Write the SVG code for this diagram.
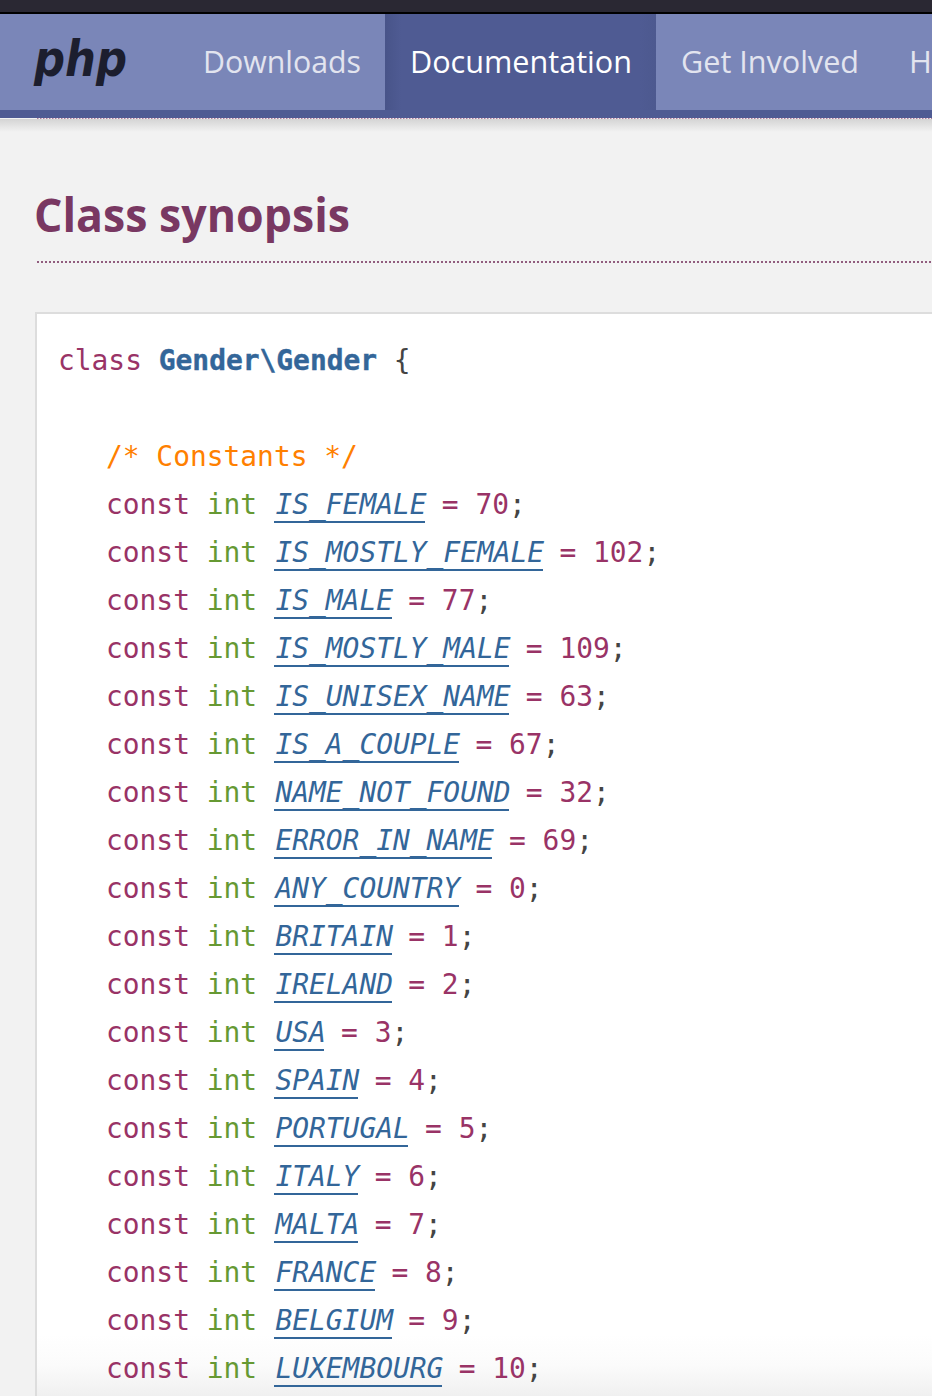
<svg xmlns="http://www.w3.org/2000/svg" width="932" height="1396" viewBox="0 0 932 1396">
<style>
.m{font-family:"DejaVu Sans Mono","Liberation Mono",monospace;font-size:27.9px;white-space:pre}
.k{fill:#993366}.t{fill:#669933}.n{fill:#336699;font-style:italic}.p{fill:#444444}.o{fill:#ff8000}
.c{fill:#336699;font-weight:700;stroke:#336699;stroke-width:0.4}
.u{stroke:#336699;stroke-width:2}
.nav{font-family:"Open Sans","Noto Sans",sans-serif;font-size:31px;fill:#e2e4ef}
</style>
<defs>
<linearGradient id="sh" x1="0" y1="0" x2="0" y2="1"><stop offset="0" stop-color="#d4d4d4"/><stop offset="1" stop-color="#f2f2f2"/></linearGradient>
<linearGradient id="fade" x1="0" y1="0" x2="0" y2="1"><stop offset="0" stop-color="#ffffff"/><stop offset="0.5" stop-color="#fbfbfb"/><stop offset="1" stop-color="#f0f0f0"/></linearGradient>
<linearGradient id="tab" x1="0" y1="0" x2="1" y2="0"><stop offset="0" stop-color="#485489"/><stop offset="0.06" stop-color="#4f5b93"/><stop offset="0.94" stop-color="#4f5b93"/><stop offset="1" stop-color="#4d598f"/></linearGradient>
</defs>
<rect width="932" height="1396" fill="#f2f2f2"/>
<g id="header">
<rect width="932" height="12" fill="#2a2833"/>
<rect y="12" width="932" height="2" fill="#000000"/>
<rect y="14" width="932" height="96" fill="#7a86b8"/>
<rect y="110" width="932" height="8" fill="#4f5b93"/>
<rect x="385" y="14" width="271" height="96" fill="url(#tab)"/>
<rect y="119" width="932" height="13" fill="url(#sh)"/>
<line x1="37" y1="118.5" x2="932" y2="118.5" stroke="#b07a9a" stroke-width="1" stroke-dasharray="1.5 1.5"/>
<text x="34" y="76" font-family="'DejaVu Sans','Liberation Sans',sans-serif" font-weight="700" font-style="italic" font-size="49" fill="#1c1e2e" textLength="93" lengthAdjust="spacingAndGlyphs">php</text>
<text class="nav" x="203" y="73" textLength="158" lengthAdjust="spacingAndGlyphs">Downloads</text>
<text class="nav" x="410" y="73" textLength="222" lengthAdjust="spacingAndGlyphs" style="fill:#ffffff">Documentation</text>
<text class="nav" x="681" y="73" textLength="178" lengthAdjust="spacingAndGlyphs">Get Involved</text>
<text class="nav" x="909" y="73">H</text>
</g>
<g id="heading">
<text x="34" y="231.5" font-family="'Open Sans','Noto Sans',sans-serif" font-weight="700" font-size="46" fill="#793862" textLength="316" lengthAdjust="spacingAndGlyphs">Class synopsis</text>
<line x1="37" y1="262" x2="932" y2="262" stroke="#793862" stroke-width="2" stroke-dasharray="2 2" opacity="0.8"/>
</g>
<g id="box">
<rect x="36" y="313" width="900" height="1090" fill="#ffffff" stroke="#dddddd" stroke-width="2"/>
<rect x="37" y="1335" width="895" height="61" fill="url(#fade)"/>
</g>
<g id="code" class="m" transform="translate(0 1)">
<text x="58" y="369"><tspan class="k">class</tspan> <tspan class="c">Gender\Gender</tspan> <tspan class="p">{</tspan></text>
<text x="106" y="465" class="o">/* Constants */</text>
<text x="106" y="513"><tspan class="k">const</tspan> <tspan class="t">int</tspan> <tspan class="n" dx="1.5">IS_FEMALE</tspan> <tspan class="k" dx="-1.5">= 70</tspan><tspan class="p">;</tspan></text>
<text x="106" y="561"><tspan class="k">const</tspan> <tspan class="t">int</tspan> <tspan class="n" dx="1.5">IS_MOSTLY_FEMALE</tspan> <tspan class="k" dx="-1.5">= 102</tspan><tspan class="p">;</tspan></text>
<text x="106" y="609"><tspan class="k">const</tspan> <tspan class="t">int</tspan> <tspan class="n" dx="1.5">IS_MALE</tspan> <tspan class="k" dx="-1.5">= 77</tspan><tspan class="p">;</tspan></text>
<text x="106" y="657"><tspan class="k">const</tspan> <tspan class="t">int</tspan> <tspan class="n" dx="1.5">IS_MOSTLY_MALE</tspan> <tspan class="k" dx="-1.5">= 109</tspan><tspan class="p">;</tspan></text>
<text x="106" y="705"><tspan class="k">const</tspan> <tspan class="t">int</tspan> <tspan class="n" dx="1.5">IS_UNISEX_NAME</tspan> <tspan class="k" dx="-1.5">= 63</tspan><tspan class="p">;</tspan></text>
<text x="106" y="753"><tspan class="k">const</tspan> <tspan class="t">int</tspan> <tspan class="n" dx="1.5">IS_A_COUPLE</tspan> <tspan class="k" dx="-1.5">= 67</tspan><tspan class="p">;</tspan></text>
<text x="106" y="801"><tspan class="k">const</tspan> <tspan class="t">int</tspan> <tspan class="n" dx="1.5">NAME_NOT_FOUND</tspan> <tspan class="k" dx="-1.5">= 32</tspan><tspan class="p">;</tspan></text>
<text x="106" y="849"><tspan class="k">const</tspan> <tspan class="t">int</tspan> <tspan class="n" dx="1.5">ERROR_IN_NAME</tspan> <tspan class="k" dx="-1.5">= 69</tspan><tspan class="p">;</tspan></text>
<text x="106" y="897"><tspan class="k">const</tspan> <tspan class="t">int</tspan> <tspan class="n" dx="1.5">ANY_COUNTRY</tspan> <tspan class="k" dx="-1.5">= 0</tspan><tspan class="p">;</tspan></text>
<text x="106" y="945"><tspan class="k">const</tspan> <tspan class="t">int</tspan> <tspan class="n" dx="1.5">BRITAIN</tspan> <tspan class="k" dx="-1.5">= 1</tspan><tspan class="p">;</tspan></text>
<text x="106" y="993"><tspan class="k">const</tspan> <tspan class="t">int</tspan> <tspan class="n" dx="1.5">IRELAND</tspan> <tspan class="k" dx="-1.5">= 2</tspan><tspan class="p">;</tspan></text>
<text x="106" y="1041"><tspan class="k">const</tspan> <tspan class="t">int</tspan> <tspan class="n" dx="1.5">USA</tspan> <tspan class="k" dx="-1.5">= 3</tspan><tspan class="p">;</tspan></text>
<text x="106" y="1089"><tspan class="k">const</tspan> <tspan class="t">int</tspan> <tspan class="n" dx="1.5">SPAIN</tspan> <tspan class="k" dx="-1.5">= 4</tspan><tspan class="p">;</tspan></text>
<text x="106" y="1137"><tspan class="k">const</tspan> <tspan class="t">int</tspan> <tspan class="n" dx="1.5">PORTUGAL</tspan> <tspan class="k" dx="-1.5">= 5</tspan><tspan class="p">;</tspan></text>
<text x="106" y="1185"><tspan class="k">const</tspan> <tspan class="t">int</tspan> <tspan class="n" dx="1.5">ITALY</tspan> <tspan class="k" dx="-1.5">= 6</tspan><tspan class="p">;</tspan></text>
<text x="106" y="1233"><tspan class="k">const</tspan> <tspan class="t">int</tspan> <tspan class="n" dx="1.5">MALTA</tspan> <tspan class="k" dx="-1.5">= 7</tspan><tspan class="p">;</tspan></text>
<text x="106" y="1281"><tspan class="k">const</tspan> <tspan class="t">int</tspan> <tspan class="n" dx="1.5">FRANCE</tspan> <tspan class="k" dx="-1.5">= 8</tspan><tspan class="p">;</tspan></text>
<text x="106" y="1329"><tspan class="k">const</tspan> <tspan class="t">int</tspan> <tspan class="n" dx="1.5">BELGIUM</tspan> <tspan class="k" dx="-1.5">= 9</tspan><tspan class="p">;</tspan></text>
<text x="106" y="1377"><tspan class="k">const</tspan> <tspan class="t">int</tspan> <tspan class="n" dx="1.5">LUXEMBOURG</tspan> <tspan class="k" dx="-1.5">= 10</tspan><tspan class="p">;</tspan></text>
</g>
<g id="underlines" class="u" transform="translate(0 1)">
<line x1="274" y1="521" x2="425" y2="521"/>
<line x1="274" y1="569" x2="543" y2="569"/>
<line x1="274" y1="617" x2="392" y2="617"/>
<line x1="274" y1="665" x2="509" y2="665"/>
<line x1="274" y1="713" x2="509" y2="713"/>
<line x1="274" y1="761" x2="459" y2="761"/>
<line x1="274" y1="809" x2="509" y2="809"/>
<line x1="274" y1="857" x2="492" y2="857"/>
<line x1="274" y1="905" x2="459" y2="905"/>
<line x1="274" y1="953" x2="392" y2="953"/>
<line x1="274" y1="1001" x2="392" y2="1001"/>
<line x1="274" y1="1049" x2="324" y2="1049"/>
<line x1="274" y1="1097" x2="358" y2="1097"/>
<line x1="274" y1="1145" x2="408" y2="1145"/>
<line x1="274" y1="1193" x2="358" y2="1193"/>
<line x1="274" y1="1241" x2="358" y2="1241"/>
<line x1="274" y1="1289" x2="375" y2="1289"/>
<line x1="274" y1="1337" x2="392" y2="1337"/>
<line x1="274" y1="1385" x2="442" y2="1385"/>
</g>
</svg>
